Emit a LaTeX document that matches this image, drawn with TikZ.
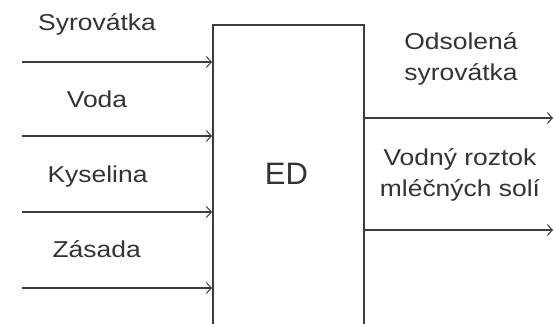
\documentclass[tikz,border=0pt]{standalone}
\usepackage{fontspec}
\setmainfont[FakeStretch=1.15]{Liberation Sans}
\newfontfamily\edfont{Liberation Sans}
\usetikzlibrary{arrows.meta}
\definecolor{ln}{HTML}{3C3C3C}
\definecolor{tx}{HTML}{333333}
\begin{document}
\begin{tikzpicture}[x=1pt,y=-1pt,
  flow/.style={draw=ln,line width=1.6pt,-{Straight Barb[length=5pt,width=11pt,line width=1pt]}},
  lbl/.style={text=tx,font=\fontsize{23}{31}\selectfont,align=center,inner sep=0pt,anchor=base},
  box/.style={draw=ln,line width=1.6pt,minimum width=151pt,minimum height=330pt,inner sep=0pt,anchor=north west}]
\useasboundingbox (0,0) rectangle (555,324);
\clip (0,0) rectangle (555,324);
\node[box] (ed) at (212,24) {};
\node[lbl,font=\edfont\fontsize{31}{36}\selectfont] (edl) at (286.5,184) {ED};
% inputs
\coordinate (i1) at (22,62);
\coordinate (i2) at (22,136);
\coordinate (i3) at (22,212);
\coordinate (i4) at (22,288);
\draw[flow] (i1) -- (i1 -| ed.west);
\draw[flow] (i2) -- (i2 -| ed.west);
\draw[flow] (i3) -- (i3 -| ed.west);
\draw[flow] (i4) -- (i4 -| ed.west);
\node[lbl] (t1) at (97,30.5) {Syrovátka};
\node[lbl] (t2) at (97,107) {Voda};
\node[lbl] (t3) at (97.5,182) {Kyselina};
\node[lbl] (t4) at (96.7,257) {Zásada};
% outputs
\coordinate (o1) at (553,118);
\coordinate (o2) at (553,230);
\draw[flow] (o1 -| ed.east) -- (o1);
\draw[flow] (o2 -| ed.east) -- (o2);
\node[lbl] (t5) at (461,80) {Odsolená\\syrovátka};
\node[lbl] (t6) at (460,196) {Vodný roztok\\mléčných solí};
\end{tikzpicture}
\end{document}
